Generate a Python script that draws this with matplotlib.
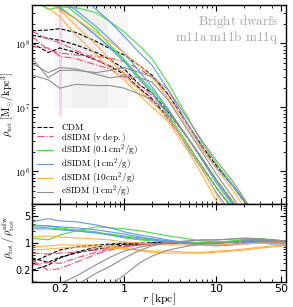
import matplotlib.pyplot as plt
import numpy as np
from matplotlib.ticker import FixedLocator, LogLocator, NullFormatter, FuncFormatter

plt.rcParams['mathtext.fontset'] = 'cm'

# radii [kpc]
r_top = [0.1, 0.15, 0.2, 0.3, 0.5, 0.7, 1, 1.5, 2, 3, 5, 7, 10, 15, 20, 30]
r_bot = [0.1, 0.15, 0.2, 0.3, 0.5, 0.7, 1, 1.5, 2, 3, 5, 7, 10, 15, 20, 30, 40, 57]

# total density, in 1e6 Msun/kpc^3 (three halos per model)
rho_cdm = [
    [158, 162, 170, 148, 107, 83, 66, 44, 32, 16, 5.2, 2.5, 1.23, 0.60, 0.34, 0.14],
    [135, 120, 112, 95, 72, 56, 40, 22, 17, 8.5, 3.2, 1.6, 0.74, 0.34, 0.19, 0.078],
    [102, 72, 85, 72, 55, 44, 33, 19.5, 13.8, 6.9, 2.4, 1.2, 0.56, 0.26, 0.14, 0.062],
]
rho_vdep = [
    [129, 79, 71, 66, 63, 59, 52, 39, 30, 16, 5.2, 2.5, 1.32, 0.60, 0.34, 0.14],
    [155, 117, 102, 78, 55, 45, 35, 22, 15.5, 8.5, 3.2, 1.6, 0.74, 0.34, 0.19, 0.081],
    [89, 85, 63, 58, 46, 40, 30, 19, 13, 6.5, 2.4, 1.2, 0.56, 0.26, 0.15, 0.059],
]
rho_c01 = [
    [479, 339, 372, 363, 302, 219, 151, 89, 58, 24, 6.6, 2.8, 1.32, 0.63, 0.36, 0.16],
    [813, 617, 457, 295, 162, 95, 56, 29, 19, 9.1, 3.2, 1.6, 0.74, 0.34, 0.19, 0.087],
    [646, 490, 372, 240, 132, 89, 55, 28, 17, 7.8, 2.6, 1.2, 0.56, 0.27, 0.16, 0.069],
]
rho_c1 = [
    [1230, 1175, 871, 617, 339, 219, 129, 69, 46, 19, 5.2, 2.3, 1.15, 0.60, 0.34, 0.15],
    [776, 617, 479, 331, 182, 117, 71, 35, 21, 9.5, 3.2, 1.5, 0.66, 0.30, 0.17, 0.078],
    [575, 457, 355, 240, 132, 85, 52, 26, 17, 7.4, 2.2, 1.07, 0.47, 0.21, 0.12, 0.055],
]
rho_c10 = [
    [513, 427, 339, 240, 148, 107, 71, 44, 30, 14, 4.7, 2.2, 1.10, 0.52, 0.28, 0.13],
    [501, 355, 263, 135, 66, 40, 27, 15, 10.2, 6.0, 2.0, 0.89, 0.35, 0.14, 0.076, 0.032],
    [562, 447, 331, 191, 95, 56, 33, 18, 12, 6.9, 2.4, 1.10, 0.44, 0.17, 0.093, 0.04],
]
rho_esidm = [
    [59, 29, 38, 38, 35, 38, 42, 35, 30, 19, 6.3, 3.0, 1.48, 0.71, 0.38, 0.16],
    [49, 35, 42, 40, 33, 29, 31, 29, 25, 13, 4.2, 2.0, 0.91, 0.40, 0.21, 0.089],
    [32, 27, 20, 23, 22, 22, 20, 16, 13, 8.9, 3.2, 1.6, 0.72, 0.32, 0.18, 0.076],
]

# ratio to the NFW fit
ratio_cdm = [
    [0.32, 0.49, 0.66, 0.79, 0.89, 0.94, 1.0, 1.0, 1.0, 1.0, 1.0, 1.0, 1.0, 1.06, 1.13, 1.13, 1.06, 1.0],
    [0.2, 0.27, 0.41, 0.58, 0.79, 0.89, 0.94, 0.94, 1.0, 1.0, 1.0, 1.0, 1.0, 1.06, 1.13, 1.06, 1.0, 1.0],
    [0.41, 0.32, 0.43, 0.55, 0.7, 0.79, 0.89, 0.94, 1.0, 1.0, 1.0, 1.0, 1.0, 1.06, 1.06, 1.13, 1.06, 1.0],
]
ratio_vdep = [
    [0.36, 0.2, 0.22, 0.32, 0.52, 0.66, 0.79, 0.89, 0.94, 1.0, 1.0, 1.0, 1.06, 1.06, 1.13, 1.13, 1.06, 1.0],
    [0.55, 0.52, 0.55, 0.58, 0.66, 0.74, 0.84, 0.94, 0.94, 1.0, 1.0, 1.0, 1.0, 1.06, 1.06, 1.13, 1.06, 1.0],
    [0.27, 0.32, 0.3, 0.41, 0.58, 0.7, 0.79, 0.89, 0.94, 0.94, 1.0, 1.0, 1.0, 1.06, 1.13, 1.06, 1.06, 1.0],
]
ratio_c01 = [
    [1.35, 1.2, 1.6, 2.05, 2.6, 2.45, 2.3, 2.05, 1.81, 1.52, 1.27, 1.13, 1.06, 1.13, 1.2, 1.27, 1.2, 1.13],
    [2.9, 2.75, 2.45, 2.17, 1.93, 1.6, 1.35, 1.2, 1.13, 1.06, 1.0, 1.0, 1.0, 1.06, 1.13, 1.2, 1.13, 1.06],
    [2.6, 2.45, 2.3, 2.05, 1.81, 1.71, 1.52, 1.35, 1.27, 1.13, 1.06, 1.0, 1.0, 1.13, 1.2, 1.27, 1.2, 1.13],
]
ratio_c1 = [
    [3.5, 4.2, 3.7, 3.5, 2.9, 2.45, 1.93, 1.6, 1.43, 1.2, 1.0, 0.94, 0.94, 1.06, 1.13, 1.2, 1.13, 1.06],
    [2.75, 2.75, 2.6, 2.45, 2.17, 1.93, 1.71, 1.43, 1.27, 1.13, 1.0, 0.94, 0.89, 0.94, 1.0, 1.06, 1.0, 1.0],
    [2.3, 2.3, 2.17, 2.05, 1.81, 1.61, 1.43, 1.27, 1.2, 1.06, 0.94, 0.89, 0.84, 0.89, 0.94, 1.0, 0.94, 0.94],
]
ratio_c10 = [
    [1.43, 1.52, 1.43, 1.35, 1.27, 1.2, 1.06, 1.0, 0.94, 0.89, 0.89, 0.89, 0.89, 0.94, 0.94, 1.0, 1.0, 1.0],
    [0.79, 0.84, 0.89, 0.89, 0.89, 0.84, 0.74, 0.62, 0.58, 0.55, 0.55, 0.55, 0.58, 0.62, 0.66, 0.74, 0.79, 0.84],
    [0.66, 0.7, 0.74, 0.79, 0.79, 0.74, 0.7, 0.66, 0.62, 0.62, 0.58, 0.58, 0.62, 0.66, 0.7, 0.79, 0.84, 0.89],
]
ratio_esidm = [
    [0.11, 0.082, 0.09, 0.14, 0.28, 0.43, 0.62, 0.79, 0.89, 1.06, 1.13, 1.2, 1.2, 1.27, 1.27, 1.27, 1.2, 1.13],
    [0.06, 0.06, 0.06, 0.082, 0.17, 0.25, 0.41, 0.66, 0.84, 1.0, 1.13, 1.2, 1.2, 1.27, 1.35, 1.27, 1.2, 1.13],
    [0.05, 0.05, 0.05, 0.05, 0.05, 0.082, 0.15, 0.32, 0.46, 0.66, 0.84, 0.94, 1.0, 1.06, 1.13, 1.13, 1.13, 1.06],
]

labels = [r'$\mathrm{CDM}$', r'$\mathrm{dSIDM\ (v\ dep.)}$', r'$\mathrm{dSIDM\ (0.1\,cm^2/g)}$',
          r'$\mathrm{dSIDM\ (1\,cm^2/g)}$', r'$\mathrm{dSIDM\ (10\,cm^2/g)}$', r'$\mathrm{eSIDM\ (1\,cm^2/g)}$']
colors = ['black', '#ec4a6c', '#44dd44', 'cornflowerblue', '#ffb040', '#8f8f8f']
styles = ['--', '-.', '-', '-', '-', '-']
rhos = [rho_cdm, rho_vdep, rho_c01, rho_c1, rho_c10, rho_esidm]
ratios = [ratio_cdm, ratio_vdep, ratio_c01, ratio_c1, ratio_c10, ratio_esidm]

fig = plt.figure(figsize=(2.93, 3.07), dpi=100)
ax1 = fig.add_axes([0.1092, 0.3355, 0.8669, 0.6485])
ax2 = fig.add_axes([0.1092, 0.0814, 0.8669, 0.2541], sharex=ax1)

# convergence regions
ax1.axvspan(0.177, 1.1, ymin=0.484, ymax=1, color='gray', alpha=0.06, lw=0)
ax1.axvspan(0.27, 0.67, ymin=0.484, ymax=1, color='gray', alpha=0.05, lw=0)
ax1.axvline(0.2, ymin=0.445, ymax=1, color='violet', alpha=0.35, lw=2)

for lab, c, ls, rho, rat in zip(labels, colors, styles, rhos, ratios):
    for i in range(3):
        ax1.plot(r_top, np.array(rho[i]) * 1e6, color=c, ls=ls, lw=0.8,
                 label=lab if i == 0 else None)
        ax2.plot(r_bot, rat[i], color=c, ls=ls, lw=0.8)

ax1.set_xscale('log')
ax1.set_yscale('log')
ax2.set_yscale('log')
ax1.set_xlim(0.1, 57)
ax1.set_ylim(3.1e5, 4e8)
ax2.set_ylim(0.1, 10)

for ax in (ax1, ax2):
    ax.tick_params(which='both', direction='in', top=True, right=True, labelsize=8, pad=1.5)
    ax.tick_params(which='major', length=4, width=0.8)
    ax.tick_params(which='minor', length=2, width=0.6)
    for s in ax.spines.values():
        s.set_linewidth(1.0)

ax1.yaxis.set_major_locator(LogLocator(base=10))
ax1.yaxis.set_major_formatter(FuncFormatter(lambda v, p: r'$10^{%d}$' % round(np.log10(v))))
ax1.tick_params(axis='y', labelsize=7, pad=1)

ax2.xaxis.set_major_locator(FixedLocator([0.2, 1, 10, 50]))
ax2.xaxis.set_minor_locator(LogLocator(subs='auto'))
ax2.xaxis.set_major_formatter(FuncFormatter(lambda v, p: '%g' % v))
ax2.xaxis.set_minor_formatter(NullFormatter())
plt.setp(ax1.get_xticklabels(), visible=False)

ax2.yaxis.set_major_locator(FixedLocator([0.2, 1, 5]))
ax2.yaxis.set_minor_locator(LogLocator(subs='auto'))
ax2.yaxis.set_major_formatter(FuncFormatter(lambda v, p: '%g' % v))
ax2.yaxis.set_minor_formatter(NullFormatter())
ax2.tick_params(axis='y', labelsize=7, pad=1)

ax1.set_ylabel(r'$\rho_{\rm tot}\ [{\rm M_{\odot}/kpc^3}]$', fontsize=7.3)
ax1.yaxis.set_label_coords(-0.062, 0.5)
ax2.set_ylabel(r'$\rho_{\rm tot}\,/\,\rho_{\rm tot}^{\rm nfw}$', fontsize=7.5)
ax2.yaxis.set_label_coords(-0.059, 0.57)
ax2.set_xlabel(r'$r\ [{\rm kpc}]$', fontsize=8.5)
ax2.xaxis.set_label_coords(0.5, -0.125)

ax1.text(0.97, 0.915, r'$\mathrm{Bright\ dwarfs}$', transform=ax1.transAxes,
         ha='right', va='center', color='#a8a8a8', fontsize=9.5)
ax1.text(0.97, 0.835, r'$\mathrm{m11a\ m11b\ m11q}$', transform=ax1.transAxes,
         ha='right', va='center', color='#a8a8a8', fontsize=9.5)

ax1.legend(loc='lower left', frameon=False, fontsize=6.5, handlelength=1.8,
           handletextpad=0.9, labelspacing=-0.15, borderaxespad=0.1)

fig.savefig('out.png', dpi=100)
